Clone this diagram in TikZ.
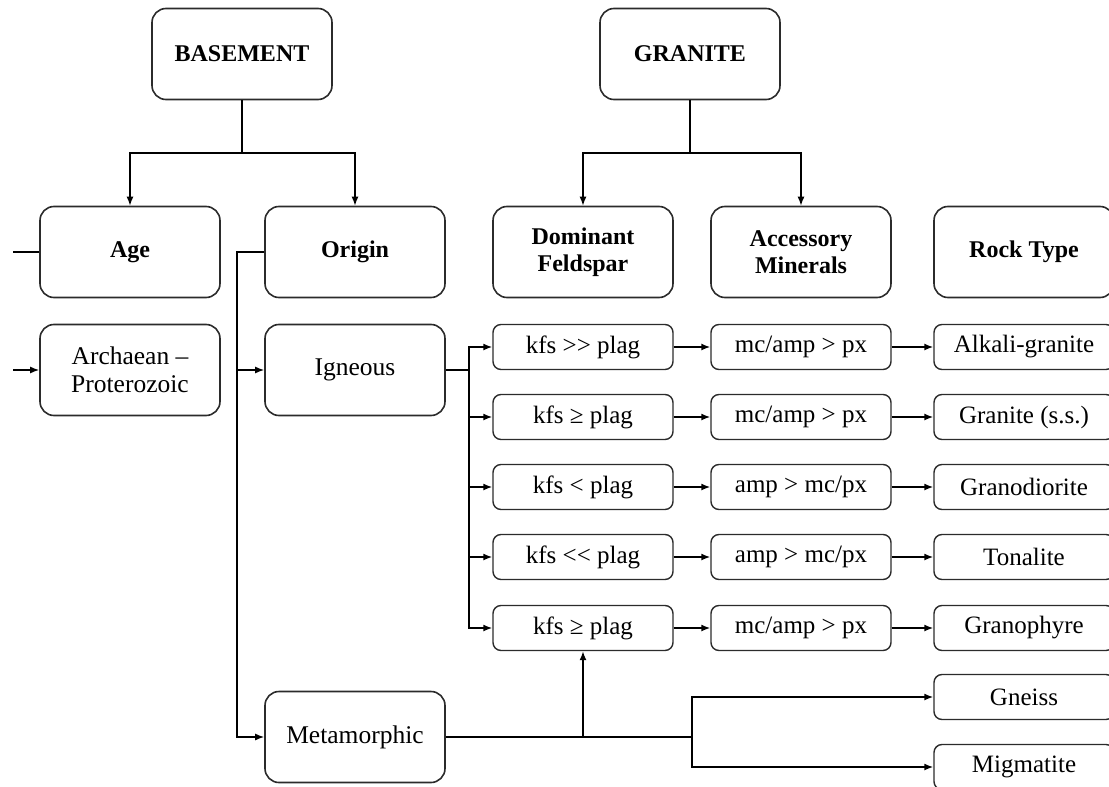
\documentclass[tikz,border=0pt]{standalone}
\usepackage{fontspec}
\setmainfont{Liberation Serif}
\usetikzlibrary{arrows.meta}
\definecolor{edge}{HTML}{2B2B2B}
\newcommand{\gtgt}{>\kern0pt>}
\newcommand{\ltlt}{<\kern0pt<}
\begin{document}
\begin{tikzpicture}[x=1pt,y=-1pt,
  bigbox/.style={draw=edge,line width=1.6pt,rounded corners=14pt,
    minimum width=180pt,minimum height=91pt,align=center,inner sep=2pt,
    font=\fontsize{24}{27}\selectfont\bfseries},
  catbox/.style={bigbox,font=\fontsize{25.5}{28}\selectfont},
  smallbox/.style={draw=edge,line width=1.4pt,rounded corners=8pt,
    minimum width=180pt,minimum height=45pt,align=center,inner sep=2pt,
    font=\fontsize{25}{27}\selectfont},
  link/.style={line width=1.5pt,draw=black},
  arr/.style={link,-{Latex[length=9pt,width=7pt]}}]
\clip (0,0) rectangle (1109,787);

% headings
\node[bigbox] (basement) at (242,54) {BASEMENT};
\node[bigbox] (granite) at (690,54) {GRANITE};
\node[bigbox] (age) at (130,252) {Age};
\node[bigbox] (origin) at (355,252) {Origin};
\node[bigbox] (dom) at (583,252) {Dominant\\Feldspar};
\node[bigbox] (acc) at (801,252) {Accessory\\Minerals};
\node[bigbox] (rock) at (1024,252) {Rock Type};

% categories
\node[catbox] (arch) at (130,370) {Archaean –\\Proterozoic};
\node[catbox] (ign) at (355,370) {Igneous};
\node[catbox] (meta) at (355,737) {Metamorphic};

% feldspar column
\node[smallbox] (f1) at (583,347) {kfs \gtgt\ plag};
\node[smallbox] (f2) at (583,417) {kfs ≥ plag};
\node[smallbox] (f3) at (583,487) {kfs < plag};
\node[smallbox] (f4) at (583,557) {kfs \ltlt\ plag};
\node[smallbox] (f5) at (583,628) {kfs ≥ plag};

% accessory minerals column
\node[smallbox] (m1) at (801,347) {mc/amp > px};
\node[smallbox] (m2) at (801,417) {mc/amp > px};
\node[smallbox] (m3) at (801,487) {amp > mc/px};
\node[smallbox] (m4) at (801,557) {amp > mc/px};
\node[smallbox] (m5) at (801,628) {mc/amp > px};

% rock type column
\node[smallbox] (r1) at (1024,347) {Alkali-granite};
\node[smallbox] (r2) at (1024,417) {Granite (s.s.)};
\node[smallbox] (r3) at (1024,487) {Granodiorite};
\node[smallbox] (r4) at (1024,557) {Tonalite};
\node[smallbox] (r5) at (1024,628) {Granophyre};
\node[smallbox] (gneiss) at (1024,697) {Gneiss};
\node[smallbox] (migm) at (1024,767) {Migmatite};

% junction points
\coordinate (bj) at (242,153);
\coordinate (gj) at (690,153);
\coordinate (ageL) at (13,252);
\coordinate (archL) at (13,370);
\coordinate (oj) at (237,252);
\coordinate (ij) at (469,370);
\coordinate (mj) at (692,737);
\coordinate (mk) at (583,737);

% BASEMENT branches
\draw[link] (basement) -- (bj);
\draw[arr] (bj) -| (age.north);
\draw[arr] (bj) -| (origin.north);

% GRANITE branches
\draw[link] (granite) -- (gj);
\draw[arr] (gj) -| (dom.north);
\draw[arr] (gj) -| (acc.north);

% age
\draw[link] (ageL) -- (age.west);
\draw[arr] (archL) -- (arch.west);

% origin
\draw[arr] (origin.west) -- (oj) |- (meta.west);
\draw[arr] (oj |- ign) -- (ign.west);

% igneous to feldspar classes
\draw[link] (ign.east) -- (ij);
\foreach \k in {1,...,5} {
  \draw[arr] (ij) |- (f\k.west);
  \draw[arr] (f\k.east) -- (m\k.west);
  \draw[arr] (m\k.east) -- (r\k.west);
}

% metamorphic
\draw[link] (meta.east) -- (mj);
\draw[arr] (mk) -- (f5.south);
\draw[arr] (mj) |- (gneiss.west);
\draw[arr] (mj) |- (migm.west);
\end{tikzpicture}
\end{document}
